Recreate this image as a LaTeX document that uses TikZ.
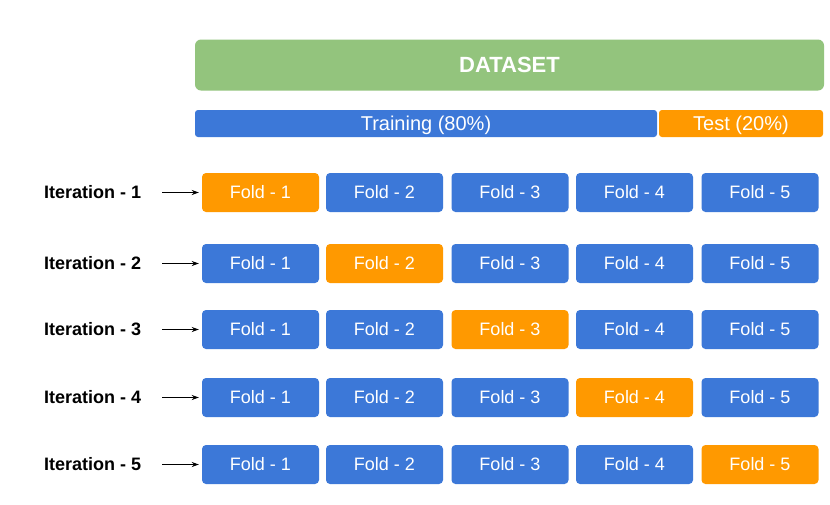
\documentclass[tikz,border=0pt]{standalone}
\usepackage{fontspec}
\setmainfont{Liberation Sans}
\usetikzlibrary{arrows.meta}
\definecolor{foldblue}{RGB}{60,120,216}
\definecolor{foldorange}{RGB}{255,153,0}
\definecolor{datagreen}{RGB}{147,196,125}
\tikzset{
  % cap height of Liberation Sans is about 0.716 of the font size
  capcentred/.style={text height=0.716*#1, text depth=0pt},
  bar/.style={rectangle, inner sep=0pt, text=white},
  foldbox/.style={bar, rounded corners=4pt, minimum width=117pt, minimum height=39pt,
    capcentred=18pt, font=\fontsize{18}{20}\selectfont},
  iterlabel/.style={anchor=west, inner sep=0pt, capcentred=18pt,
    font=\fontsize{18}{20}\selectfont\bfseries},
  pointer/.style={-{Stealth[length=7pt,width=5pt]}, line width=1.2pt, shorten >=3pt}
}
\begin{document}
\begin{tikzpicture}[x=1pt, y=-1pt]
  \useasboundingbox[fill=white] (0,0) rectangle (830,504);

  % whole dataset
  \node[bar, fill=datagreen, rounded corners=6pt, minimum width=629pt, minimum height=51pt,
        capcentred=22pt, font=\fontsize{22}{24}\selectfont\bfseries] (dataset) at (509.5,65) {DATASET};

  % train / test split
  \node[bar, fill=foldblue, rounded corners=3pt, minimum width=462pt, minimum height=27pt,
        capcentred=20pt, font=\fontsize{20}{22}\selectfont] (train) at (426,123.5) {Training (80\%)};
  \node[bar, fill=foldorange, rounded corners=3pt, minimum width=164pt, minimum height=27pt,
        capcentred=20pt, font=\fontsize{20}{22}\selectfont] (test) at (741,123.5) {Test (20\%)};

  % one row of folds per iteration, the held-out fold in orange
  \foreach \r/\y in {1/192.5, 2/263.5, 3/329.5, 4/397.5, 5/464.5} {
    \node[iterlabel] (it\r) at (44,\y) {Iteration - \r};
    \foreach \c/\x in {1/260.5, 2/384.5, 3/510, 4/634.5, 5/760} {
      \ifnum\c=\r \def\fc{foldorange}\else \def\fc{foldblue}\fi
      \node[foldbox, fill=\fc] (f\r-\c) at (\x,\y) {Fold - \c};
    }
    \coordinate (s\r) at (162,\y);
    \draw[pointer] (s\r) -- (f\r-1.west);
  }
\end{tikzpicture}
\end{document}
